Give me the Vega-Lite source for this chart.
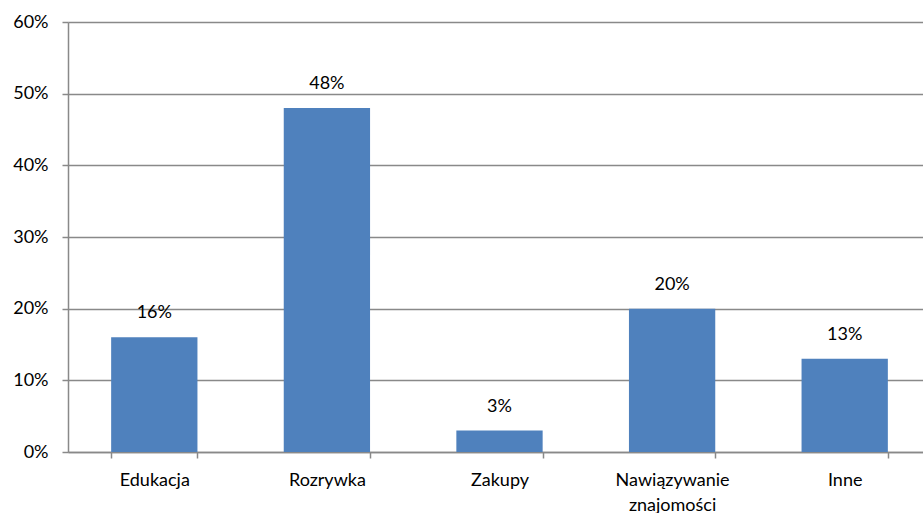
{
  "$schema": "https://vega.github.io/schema/vega-lite/v6.json",
  "autosize": {"type": "none"},
  "padding": {"left": 68, "top": 22, "right": 0, "bottom": 61},
  "width": 855,
  "height": 430,
  "background": "white",
  "config": {
    "view": {"stroke": null},
    "font": "Lato",
    "axis": {"labelFont": "Lato", "labelFontSize": 18, "labelColor": "#000000"}
  },
  "data": {
    "values": [
      {"kategoria": "Edukacja", "wartosc": 0.16},
      {"kategoria": "Rozrywka", "wartosc": 0.48},
      {"kategoria": "Zakupy", "wartosc": 0.03},
      {"kategoria": "Nawiązywanie znajomości", "wartosc": 0.20},
      {"kategoria": "Inne", "wartosc": 0.13}
    ]
  },
  "encoding": {
    "x": {
      "field": "kategoria",
      "type": "nominal",
      "sort": null,
      "scale": {"range": [0, 863], "paddingInner": 0.5, "paddingOuter": 0.25},
      "axis": {
        "title": null,
        "labelAngle": 0,
        "tickBand": "extent",
        "domainColor": "#898989",
        "domainWidth": 1.5,
        "tickColor": "#898989",
        "tickWidth": 1.5,
        "tickSize": 6,
        "labelPadding": 13,
        "labelLineHeight": 25,
        "labelExpr": "datum.label == 'Nawiązywanie znajomości' ? ['Nawiązywanie', 'znajomości'] : datum.label",
        "grid": false
      }
    },
    "y": {
      "field": "wartosc",
      "type": "quantitative",
      "scale": {"domain": [0, 0.6], "nice": false},
      "axis": {
        "title": null,
        "format": ".0%",
        "values": [0, 0.1, 0.2, 0.3, 0.4, 0.5, 0.6],
        "grid": true,
        "gridColor": "#898989",
        "gridWidth": 1.5,
        "domainColor": "#898989",
        "domainWidth": 1.5,
        "tickColor": "#898989",
        "tickWidth": 1.5,
        "tickSize": 6,
        "labelPadding": 14
      }
    }
  },
  "layer": [
    {"mark": {"type": "bar", "color": "#4F81BD"}},
    {
      "mark": {"type": "text", "baseline": "bottom", "dy": -15, "fontSize": 18, "font": "Lato", "color": "#000000"},
      "encoding": {"text": {"field": "wartosc", "type": "quantitative", "format": ".0%"}}
    }
  ]
}
